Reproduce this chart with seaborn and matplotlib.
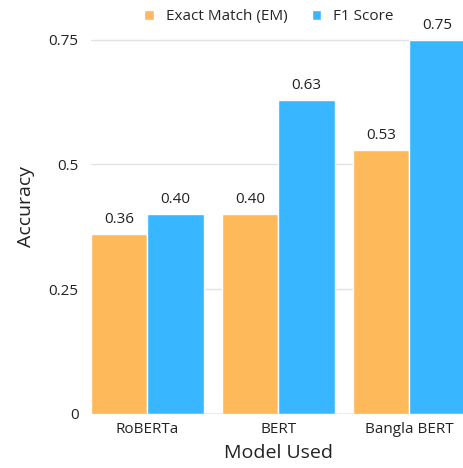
import matplotlib
matplotlib.use("Agg")
import matplotlib.pyplot as plt
import seaborn as sns
import pandas as pd

models = ["RoBERTa", "BERT", "Bangla BERT"]
metrics = ["Exact Match (EM)", "F1 Score"]
em_scores = [0.36, 0.40, 0.53]
f1_scores = [0.40, 0.63, 0.75]
y_ticks = [0, 0.25, 0.5, 0.75]
y_tick_labels = ["0", "0.25", "0.5", "0.75"]
palette = ["#FDB95A", "#38B6FF"]

df = pd.DataFrame({
    "Model": models * 2,
    "Metric": [metrics[0]] * 3 + [metrics[1]] * 3,
    "Accuracy": em_scores + f1_scores,
})

sns.set_style("white")
plt.rcParams["font.family"] = ["Open Sans", "DejaVu Sans"]

fig = plt.figure(figsize=(4.64, 4.68), dpi=100)
ax = fig.add_axes([0.196, 0.1154, 0.808, 0.885])

sns.barplot(data=df, x="Model", y="Accuracy", hue="Metric", palette=palette,
            width=0.86, edgecolor="white", linewidth=1, saturation=1, ax=ax)

for container in ax.containers:
    ax.bar_label(container, fmt="%.2f", padding=5, fontsize=11, color="#222222")

ax.set_xlim(-0.43, 2.43)
ax.set_ylim(0, 0.83)
ax.set_yticks(y_ticks)
ax.set_yticklabels(y_tick_labels)
ax.yaxis.grid(True, color="#e2e2e2", linewidth=1)
ax.set_axisbelow(True)
ax.axhline(0, color="#bbbbbb", linewidth=1)
for s in ax.spines.values():
    s.set_visible(False)
ax.tick_params(axis="both", length=0, labelsize=11, colors="#222222")
ax.tick_params(axis="y", pad=9)
ax.tick_params(axis="x", pad=6)

ax.set_xlabel("Model Used", fontsize=14, color="#222222", labelpad=5)
ax.set_ylabel("Accuracy", fontsize=14, color="#222222", labelpad=10)

handles, labels = ax.get_legend_handles_labels()
ax.get_legend().remove()
fig.legend(handles, labels, loc="upper center", bbox_to_anchor=(0.58, 1.01), ncol=2,
           frameon=False, fontsize=11, handlelength=0.6, handleheight=0.6,
           columnspacing=1.6, handletextpad=0.8)

fig.savefig("out.png", dpi=100)
